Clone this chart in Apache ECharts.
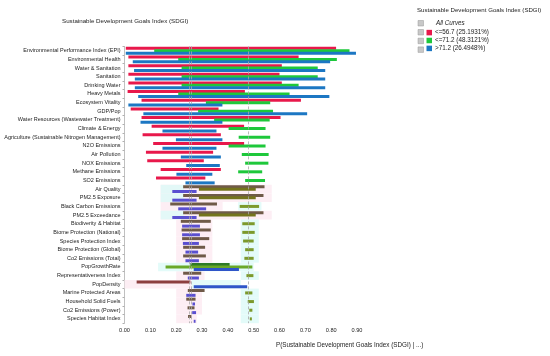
<!DOCTYPE html>
<html><head><meta charset="utf-8">
<script src="https://cdn.jsdelivr.net/npm/echarts@6/dist/echarts.min.js"></script>
<style>html,body{margin:0;padding:0;background:#fff}#c{width:550px;height:356px}</style>
</head><body><div id="c"></div>
<script>
// ---------- data ----------
const categories = [
  'Environmental Performance Index (EPI)','Environmental Health','Water & Sanitation','Sanitation',
  'Drinking Water','Heavy Metals','Ecosystem Vitality','GDP/Pop','Water Resources (Wastewater Treatment)',
  'Climate & Energy','Agriculture (Sustainable Nitrogen Management)','N2O Emissions','Air Pollution',
  'NOX Emissions','Methane Emissions','SO2 Emissions','Air Quality','PM2.5 Exposure','Black Carbon Emissions',
  'PM2.5 Exceedance','Biodiverity & Habitat','Biome Protection (National)','Species Protection Index',
  'Biome Protection (Global)','Co2 Emissions (Total)','PopGrowthRate','Representativeness Index','PopDensity',
  'Marine Protected Areas','Household Solid Fuels','Co2 Emissions (Power)','Species Habitat Index'
];
const redLo   = [0.005,0.015,0.015,0.015,0.015,0.012,0.066,0.024,0.066,0.105,0.070,0.111,0.083,0.088,0.140,0.122,0.227,0.227,0.177,0.227,0.218,0.221,0.223,0.227,0.227,0.255,0.227,0.047,0.245,0.239,0.244,0.246];
const redHi   = [0.819,0.674,0.609,0.600,0.609,0.466,0.683,0.364,0.604,0.463,0.373,0.463,0.343,0.307,0.373,0.313,0.542,0.538,0.358,0.538,0.334,0.334,0.328,0.312,0.315,0.407,0.297,0.255,0.310,0.275,0.271,0.259];
const greenLo = [0.115,0.208,0.221,0.221,0.221,0.208,0.315,0.285,0.347,0.403,0.442,0.403,0.454,0.467,0.440,0.467,0.288,0.288,0.446,0.288,0.456,0.456,0.459,0.467,0.464,0.159,0.472,null,0.467,0.477,0.483,0.485];
const greenHi = [0.871,0.822,0.748,0.748,0.674,0.639,0.564,0.575,0.562,0.546,0.564,0.546,0.558,0.557,0.533,0.544,0.508,0.508,0.521,0.508,0.504,0.504,0.500,0.500,0.500,0.495,0.499,null,0.495,0.501,0.495,0.493];
const blueLo  = [0.005,0.032,0.037,0.040,0.040,0.053,0.015,0.073,0.062,0.147,0.199,0.147,0.218,0.239,0.201,0.236,0.185,0.185,0.208,0.185,0.223,0.223,0.226,0.236,0.236,0.268,0.245,0.268,0.239,0.263,0.262,0.268];
const blueHi  = [0.896,0.796,0.777,0.777,0.777,0.793,0.379,0.707,0.379,0.356,0.379,0.356,0.373,0.369,0.340,0.349,0.279,0.279,0.316,0.279,0.292,0.292,0.288,0.285,0.288,0.443,0.288,0.475,0.275,0.273,0.277,0.275];
// light shaded bands behind the lower rows
const pinkLo  = [null,null,null,null,null,null,null,null,null,null,null,null,null,null,null,null,0.14,0.14,0.14,0.14,0.20,0.20,0.20,0.20,0.20,null,0.20,0.00,0.20,0.20,0.20,0.20];
const pinkHi  = [null,null,null,null,null,null,null,null,null,null,null,null,null,null,null,null,0.57,0.57,0.38,0.57,0.34,0.34,0.34,0.34,0.34,null,0.31,0.26,0.30,0.30,0.30,0.28];
const cyanLo  = [null,null,null,null,null,null,null,null,null,null,null,null,null,null,null,null,0.14,0.14,0.44,0.14,0.45,0.45,0.45,0.45,0.45,0.13,0.45,0.26,0.45,0.45,0.45,0.45];
const cyanHi  = [null,null,null,null,null,null,null,null,null,null,null,null,null,null,null,null,0.23,0.23,0.53,0.23,0.52,0.52,0.52,0.52,0.52,0.50,0.52,0.45,0.52,0.52,0.52,0.52];
const priors = [0.251931, 0.483121, 0.264948];
const legendLabels = ['<=56.7 (25.1931%)', '<=71.2 (48.3121%)', '>71.2 (26.4948%)'];
const xTickLabels = ['0.00','0.10','0.20','0.30','0.40','0.50','0.60','0.70','0.80','0.90'];
const titleText = 'Sustainable Development Goals Index (SDGI)';
const axisTitle = 'P(Sustainable Development Goals Index (SDGI) | ...)';

// ---------- styles ----------
const palettes = {
  vivid:   ['#e8184b', '#1ec83b', '#1c77c3'],
  muted:   ['#6f5a48', '#7c9a2c', '#5a4fd0'],
  dense:   ['#6f5a48', '#74741c', '#5a4fd0'],
  growth:  ['#2f7a25', '#6aa828', '#2f55c8'],
  density: ['#8c3f3f', '#6aa828', '#2f55c8']
};
const rowTone = categories.map((c, i) => {
  if (i < 16) return 'vivid';
  if (c === 'PopGrowthRate') return 'growth';
  if (c === 'PopDensity') return 'density';
  if (i === 16 || i === 17 || i === 19) return 'dense';
  return 'muted';
});
const FONT = 'Liberation Sans, Arial, sans-serif';
const BW = 3;

function rangeSeries(name, lo, hi, k, stack) {
  const base = {
    type: 'bar', stack: stack, yAxisIndex: 0, barWidth: BW, barGap: '-20%', silent: true, z: 3,
    itemStyle: { color: 'rgba(0,0,0,0)' },
    data: lo.map(v => (v == null ? null : v))
  };
  const range = {
    name: name, type: 'bar', stack: stack, yAxisIndex: 0, barWidth: BW, barGap: '-20%', z: 3,
    itemStyle: { color: palettes.vivid[k] },
    data: lo.map((v, i) => (v == null || hi[i] == null) ? null :
      { value: +(hi[i] - v).toFixed(4), itemStyle: { color: palettes[rowTone[i]][k] } })
  };
  return [base, range];
}
function bandSeries(lo, hi, color, stack) {
  return [
    { type: 'bar', stack: stack, yAxisIndex: 1, barWidth: '100%', barGap: '-100%', silent: true, z: 1,
      itemStyle: { color: 'rgba(0,0,0,0)' }, data: lo.map(v => v == null ? null : v) },
    { type: 'bar', stack: stack, yAxisIndex: 1, barWidth: '100%', barGap: '-100%', silent: true, z: 1,
      itemStyle: { color: color }, data: lo.map((v, i) => v == null ? null : +(hi[i] - v).toFixed(4)) }
  ];
}

const series = [
  ...bandSeries(pinkLo, pinkHi, '#fdeef4', 'pink'),
  ...bandSeries(cyanLo, cyanHi, 'rgba(220,250,247,0.8)', 'cyan'),
  ...rangeSeries(legendLabels[0], redLo, redHi, 0, 'r'),
  ...rangeSeries(legendLabels[1], greenLo, greenHi, 1, 'g'),
  ...rangeSeries(legendLabels[2], blueLo, blueHi, 2, 'b')
];
series[4].markLine = {
  silent: true, symbol: 'none', label: { show: false },
  lineStyle: { type: [3, 2], width: 0.8, color: '#a8a8a8' },
  data: priors.map(p => ({ xAxis: p }))
};

const chart = echarts.init(document.getElementById('c'), null, { renderer: 'canvas' });
chart.setOption({
  animation: false,
  backgroundColor: '#fff',
  textStyle: { fontFamily: FONT },
  title: [
    { text: titleText, left: 62, top: 18, padding: 0, textStyle: { fontSize: 6.2, fontWeight: 'normal', color: '#222', fontFamily: FONT } },
    { text: titleText, left: 417, top: 7.5, padding: 0, textStyle: { fontSize: 6.1, fontWeight: 'normal', color: '#222', fontFamily: FONT } },
    { text: axisTitle, left: 276, top: 342.5, padding: 0, textStyle: { fontSize: 6.3, fontWeight: 'normal', color: '#222', fontFamily: FONT } }
  ],
  legend: {
    orient: 'vertical', left: 426.5, top: 29.6, padding: 0, itemWidth: 5.5, itemHeight: 5.5, itemGap: 1.9,
    icon: 'rect', selectedMode: false, data: legendLabels,
    textStyle: { fontSize: 6.3, color: '#222', fontFamily: FONT, padding: [0, 0, 0, -2] }
  },
  graphic: [
    ...[23.3, 32.3, 41, 49.7].map(y => ({
      type: 'rect', shape: { x: 418, y: y - 2.8, width: 5.5, height: 5.5 },
      style: { fill: '#c8c8c8', stroke: '#999', lineWidth: 0.5 }
    })),
    { type: 'text', x: 436, y: 23.3, style: { text: 'All Curves', font: 'italic 6.3px ' + FONT, fill: '#222', textVerticalAlign: 'middle' } }
  ],
  grid: { left: 124.5, right: 193, top: 46.4, bottom: 32.8, containLabel: false },
  xAxis: {
    type: 'value', min: 0, max: 0.9, interval: 0.1,
    axisLine: { show: false }, axisTick: { show: false }, splitLine: { show: false },
    axisLabel: { fontSize: 5.6, color: '#222', margin: 4, formatter: (v) => xTickLabels[Math.round(v * 10)] }
  },
  yAxis: [
    {
      type: 'category', inverse: true, data: categories,
      axisLine: { show: true, lineStyle: { color: '#b0b0b0', width: 0.8 } },
      axisTick: { show: true, length: 2, lineStyle: { color: '#b0b0b0' } },
      axisLabel: { fontSize: 5.5, color: '#222', margin: 4, padding: [3, 0, 0, 0] }
    },
    { type: 'category', inverse: true, data: categories, show: false, position: 'left' }
  ],
  series: series
});
</script></body></html>
